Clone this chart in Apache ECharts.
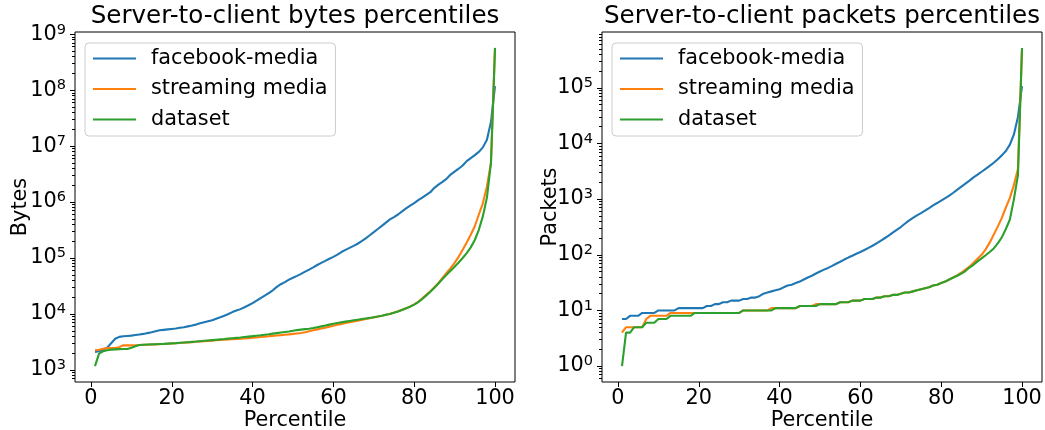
<!DOCTYPE html>
<html>
<head>
<meta charset="utf-8">
<script src="https://cdn.jsdelivr.net/npm/echarts@6/dist/echarts.min.js"></script>
<style>
  html, body { margin: 0; padding: 0; background: #fff; }
  #chart { width: 1045px; height: 430px; }
</style>
</head>
<body>
<div id="chart"></div>
<script>
// Percentile positions 1..100 shared by every curve
const percentiles = Array.from({ length: 100 }, (_, i) => i + 1);

const seriesNames = ['facebook-media', 'streaming media', 'dataset'];
const seriesColors = ['#1f77b4', '#ff7f0e', '#2ca02c'];

const titles = ['Server-to-client bytes percentiles', 'Server-to-client packets percentiles'];
const yNames = ['Bytes', 'Packets'];
const xName = 'Percentile';
const xTicks = [0, 20, 40, 60, 80, 100];
const bytesTicks = [1e3, 1e4, 1e5, 1e6, 1e7, 1e8, 1e9];
const packetsTicks = [1e0, 1e1, 1e2, 1e3, 1e4, 1e5];

// Server-to-client bytes per percentile
const bytesFacebook = [
  2100, 2150, 2300, 2500, 3000, 3600, 3900, 4000, 4050, 4100,
  4200, 4300, 4400, 4550, 4700, 4900, 5100, 5200, 5300, 5400,
  5500, 5650, 5800, 6000, 6200, 6450, 6800, 7100, 7400, 7700,
  8200, 8700, 9300, 10000, 10800, 11500, 12200, 13200, 14300, 15600,
  17300, 19200, 21200, 23500, 26500, 30500, 34000, 37000, 41000, 44500,
  48000, 52000, 57000, 62000, 68000, 75000, 82000, 89000, 97000, 105000,
  115000, 128000, 140000, 152000, 165000, 180000, 200000, 225000, 255000, 290000,
  330000, 375000, 430000, 490000, 540000, 600000, 680000, 770000, 860000, 960000,
  1080000, 1200000, 1350000, 1500000, 1800000, 2050000, 2300000, 2600000, 3100000, 3500000,
  3950000, 4500000, 5400000, 6100000, 6900000, 7900000, 9500000, 13000000, 27000000, 118000000
];
const bytesStreaming = [
  2250, 2300, 2380, 2450, 2450, 2450, 2550, 2750, 2750, 2750,
  2760, 2780, 2800, 2820, 2840, 2860, 2880, 2900, 2930, 2960,
  2990, 3020, 3060, 3100, 3140, 3180, 3220, 3260, 3300, 3340,
  3380, 3420, 3460, 3500, 3540, 3580, 3620, 3660, 3700, 3750,
  3800, 3870, 3940, 4000, 4060, 4120, 4180, 4250, 4320, 4400,
  4480, 4560, 4700, 4900, 5100, 5300, 5500, 5700, 5900, 6150,
  6400, 6650, 6900, 7100, 7350, 7600, 7850, 8100, 8400, 8700,
  9000, 9300, 9700, 10100, 10600, 11200, 11900, 12700, 13600, 14800,
  16500, 19000, 22000, 25500, 30000, 36000, 44000, 54000, 66000, 82000,
  105000, 140000, 190000, 260000, 370000, 600000, 950000, 1900000, 5000000, 560000000
];
const bytesDataset = [
  1170, 1950, 2150, 2250, 2300, 2330, 2350, 2360, 2370, 2500,
  2650, 2780, 2820, 2840, 2860, 2880, 2900, 2920, 2950, 2980,
  3010, 3050, 3090, 3130, 3170, 3210, 3260, 3310, 3360, 3410,
  3460, 3510, 3560, 3620, 3680, 3740, 3800, 3870, 3940, 4010,
  4090, 4170, 4260, 4350, 4450, 4550, 4650, 4750, 4850, 5000,
  5150, 5250, 5350, 5450, 5600, 5800, 6000, 6200, 6450, 6700,
  6900, 7100, 7300, 7500, 7700, 7900, 8100, 8300, 8500, 8750,
  9000, 9300, 9650, 10000, 10500, 11100, 11800, 12600, 13500, 14700,
  16300, 18500, 21500, 25000, 29500, 35000, 42000, 50000, 59000, 70000,
  83000, 100000, 122000, 155000, 210000, 320000, 560000, 1200000, 5000000, 570000000
];

// Server-to-client packets per percentile
const packetsFacebook = [
  7, 7, 8, 8, 8, 9, 9, 9, 9, 10,
  10, 10, 10, 10, 11, 11, 11, 11, 11, 11,
  11, 12, 12, 13, 13, 14, 14, 15, 15, 15,
  16, 16, 17, 17, 18, 20, 21, 22, 23, 24,
  26, 28, 29, 31, 33, 36, 39, 42, 46, 50,
  54, 58, 63, 69, 75, 82, 89, 96, 104, 112,
  122, 133, 145, 160, 178, 198, 220, 250, 280, 315,
  360, 410, 460, 510, 560, 620, 690, 770, 850, 940,
  1040, 1150, 1300, 1480, 1680, 1900, 2150, 2450, 2750, 3100,
  3500, 3950, 4500, 5200, 6100, 7300, 9500, 14500, 30000, 107000
];
const packetsStreaming = [
  4, 5, 5, 5, 5, 5, 7, 8, 8, 8,
  8, 8, 9, 9, 9, 9, 9, 9, 9, 9,
  9, 9, 9, 9, 9, 9, 9, 9, 9, 9,
  10, 10, 10, 10, 10, 10, 10, 11, 11, 11,
  11, 11, 11, 11, 12, 12, 12, 12, 13, 13,
  13, 13, 13, 13, 14, 14, 14, 15, 15, 15,
  16, 16, 16, 17, 17, 18, 18, 19, 19, 20,
  21, 21, 22, 23, 24, 25, 26, 28, 29, 31,
  33, 36, 39, 43, 48, 54, 61, 72, 85, 100,
  125, 165, 230, 320, 460, 700, 1050, 1800, 3500, 500000
];
const packetsDataset = [
  1, 4, 4, 5, 5, 5, 6, 6, 6, 7,
  7, 7, 8, 8, 8, 8, 8, 8, 9, 9,
  9, 9, 9, 9, 9, 9, 9, 9, 9, 9,
  10, 10, 10, 10, 10, 10, 10, 10, 11, 11,
  11, 11, 11, 11, 12, 12, 12, 12, 12, 13,
  13, 13, 13, 13, 14, 14, 14, 15, 15, 15,
  16, 16, 16, 17, 17, 18, 18, 19, 19, 20,
  21, 21, 22, 23, 24, 25, 26, 28, 29, 31,
  33, 36, 39, 42, 46, 51, 59, 66, 76, 86,
  98, 112, 130, 160, 205, 290, 430, 1000, 2700, 520000
];

const panels = [
  { title: titles[0], yName: yNames[0], ticks: bytesTicks, series: [bytesFacebook, bytesStreaming, bytesDataset] },
  { title: titles[1], yName: yNames[1], ticks: packetsTicks, series: [packetsFacebook, packetsStreaming, packetsDataset] }
];

// Plot-area geometry
const grid = [
  { left: 75, top: 32, width: 440, height: 350 },
  { left: 602, top: 32, width: 440, height: 350 }
];
const FONT = 'DejaVu Sans';
const BASE = 20.8;

// Log extent of each panel: 5% of the log data span added on both sides
function logExtent(arrays) {
  let lo = Infinity, hi = -Infinity;
  arrays.forEach(a => a.forEach(v => { lo = Math.min(lo, v); hi = Math.max(hi, v); }));
  const l0 = Math.log10(lo), l1 = Math.log10(hi), m = (l1 - l0) * 0.05;
  return [Math.pow(10, l0 - m), Math.pow(10, l1 + m)];
}
function minorTicks(ext) {
  const out = [];
  for (let e = Math.floor(Math.log10(ext[0])); e <= Math.ceil(Math.log10(ext[1])); e++) {
    for (let k = 2; k <= 9; k++) {
      const v = k * Math.pow(10, e);
      if (v >= ext[0] && v <= ext[1]) out.push(v);
    }
  }
  return out;
}

const option = {
  animation: false,
  backgroundColor: '#fff',
  textStyle: { fontFamily: FONT },
  title: [],
  legend: [],
  grid: [],
  xAxis: [],
  yAxis: [],
  series: []
};

panels.forEach((panel, gi) => {
  const g = grid[gi];
  const ext = logExtent(panel.series);
  option.grid.push(Object.assign({
    show: true, borderColor: '#000', borderWidth: 1, backgroundColor: 'transparent',
    containLabel: false, outerBoundsMode: 'none'
  }, g));
  option.title.push({
    text: panel.title,
    left: g.left + g.width / 2,
    top: 4,
    textAlign: 'center',
    padding: 0,
    textStyle: { fontFamily: FONT, fontSize: 24.6, fontWeight: 'normal', color: '#000' }
  });
  option.legend.push({
    data: seriesNames,
    orient: 'vertical',
    left: g.left + 10,
    top: 43,
    itemWidth: 43,
    itemHeight: 20,
    itemGap: 9.5,
    padding: [5, 8, 6, 7],
    borderColor: '#cccccc',
    borderWidth: 1,
    borderRadius: 4,
    backgroundColor: 'rgba(255,255,255,0.8)',
    selectedMode: false,
    itemStyle: { opacity: 0 },
    textStyle: { fontFamily: FONT, fontSize: BASE, color: '#000', padding: [0, 0, 0, 10] }
  });
  option.xAxis.push({
    type: 'value',
    gridIndex: gi,
    position: 'bottom',
    min: -3.95,
    max: 104.95,
    name: xName,
    nameLocation: 'middle',
    nameGap: 28,
    nameMoveOverlap: false,
    nameTextStyle: { fontFamily: FONT, fontSize: BASE, color: '#000' },
    axisLine: { show: false, onZero: false },
    axisTick: { show: true, length: 5, customValues: xTicks, lineStyle: { color: '#000', width: 1 } },
    axisLabel: { customValues: xTicks, margin: 6, fontFamily: FONT, fontSize: BASE, color: '#000' },
    splitLine: { show: false }
  });
  // Major decades with labels
  option.yAxis.push({
    type: 'log',
    logBase: 10,
    gridIndex: gi,
    position: 'left',
    min: ext[0],
    max: ext[1],
    name: panel.yName,
    nameLocation: 'middle',
    nameRotate: 90,
    nameGap: gi === 0 ? 44 : 41,
    nameMoveOverlap: false,
    nameTextStyle: { fontFamily: FONT, fontSize: BASE, color: '#000' },
    axisLine: { show: false, onZero: false },
    axisTick: { show: true, length: 5, customValues: panel.ticks, lineStyle: { color: '#000', width: 1 } },
    axisLabel: {
      customValues: panel.ticks,
      margin: 9,
      color: '#000',
      formatter: v => '{b|10}{s|' + Math.round(Math.log10(v)) + '}',
      rich: {
        b: { fontFamily: FONT, fontSize: BASE, color: '#000' },
        s: { fontFamily: FONT, fontSize: 14.5, color: '#000', padding: [0, 0, 9, 0] }
      }
    },
    splitLine: { show: false }
  });
  // Minor ticks at 2..9 times each decade, drawn on the left edge
  option.yAxis.push({
    type: 'log',
    logBase: 10,
    gridIndex: gi,
    position: 'right',
    offset: -g.width,
    min: ext[0],
    max: ext[1],
    axisLine: { show: false, onZero: false },
    axisTick: { show: true, inside: true, length: 3, customValues: minorTicks(ext), lineStyle: { color: '#000', width: 1 } },
    axisLabel: { show: false },
    splitLine: { show: false }
  });
  panel.series.forEach((arr, si) => {
    option.series.push({
      name: seriesNames[si],
      type: 'line',
      xAxisIndex: gi,
      yAxisIndex: gi * 2,
      showSymbol: false,
      symbol: 'none',
      color: seriesColors[si],
      lineStyle: { width: 2.1, color: seriesColors[si] },
      data: percentiles.map((p, i) => [p, arr[i]])
    });
  });
});

const chart = echarts.init(document.getElementById('chart'), null, { renderer: 'canvas' });
chart.setOption(option);
</script>
</body>
</html>
